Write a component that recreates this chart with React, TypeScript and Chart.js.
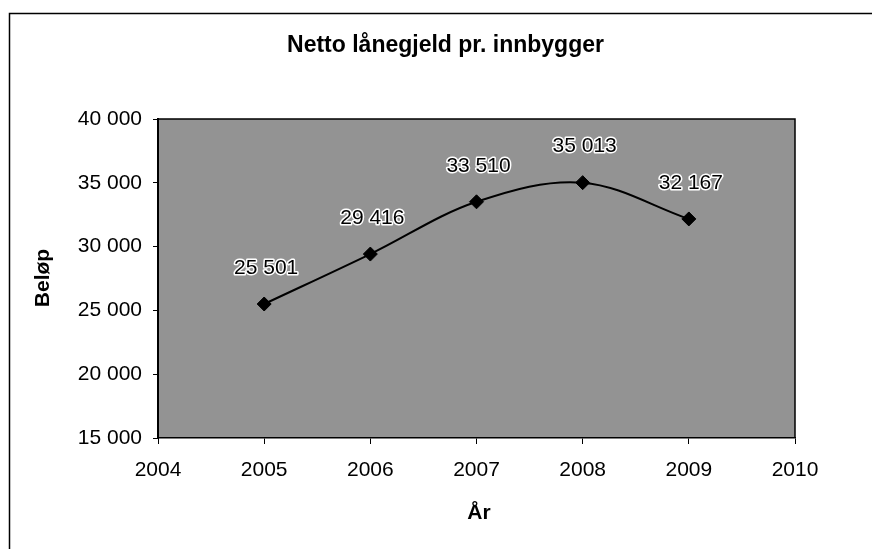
import React, { useEffect, useRef } from "react";
import { Chart, registerables } from "chart.js";

Chart.register(...registerables);

const years = [2005, 2006, 2007, 2008, 2009];
const amounts = [25501, 29416, 33510, 35013, 32167];
const titleText = "Netto lånegjeld pr. innbygger";
const yTitle = "Beløp";
const xTitle = "År";
const yMin = 15000;
const yMax = 40000;
const yStep = 5000;
const xMin = 2004;
const xMax = 2010;

const FONT = "'Liberation Sans', Arial, Helvetica, sans-serif";

function fmt(v: number): string {
  return String(Math.round(v)).replace(/\B(?=(\d{3})+(?!\d))/g, " ");
}

const decorPlugin = {
  id: "decor",
  beforeDraw(chart: any) {
    const { ctx, chartArea } = chart;
    ctx.save();
    ctx.fillStyle = "#ffffff";
    ctx.fillRect(0, 0, chart.width, chart.height);
    ctx.fillStyle = "#939393";
    ctx.fillRect(chartArea.left, chartArea.top, chartArea.right - chartArea.left, chartArea.bottom - chartArea.top);
    ctx.restore();
  },
  afterDraw(chart: any) {
    const { ctx, chartArea } = chart;
    ctx.save();
    // plot border
    ctx.strokeStyle = "#000";
    ctx.lineWidth = 1.5;
    ctx.beginPath();
    ctx.moveTo(chartArea.left, chartArea.top);
    ctx.lineTo(chartArea.right, chartArea.top);
    ctx.lineTo(chartArea.right, chartArea.bottom);
    ctx.stroke();
    // outer frame
    ctx.lineWidth = 1.5;
    ctx.beginPath();
    ctx.moveTo(9.5, chart.height);
    ctx.lineTo(9.5, 13.5);
    ctx.lineTo(chart.width, 13.5);
    ctx.stroke();
    // titles
    ctx.fillStyle = "#000";
    ctx.textAlign = "center";
    ctx.textBaseline = "alphabetic";
    ctx.font = `bold 23px ${FONT}`;
    ctx.fillText(titleText, 445.5, 52);
    ctx.font = `bold 21px ${FONT}`;
    ctx.fillText(xTitle, 479, 519);
    ctx.translate(43, 278);
    ctx.rotate(-Math.PI / 2);
    ctx.textBaseline = "middle";
    ctx.fillText(yTitle, 0, 0);
    ctx.restore();
  },
  afterDatasetsDraw(chart: any) {
    const { ctx } = chart;
    const meta = chart.getDatasetMeta(0);
    ctx.save();
    ctx.font = `21px ${FONT}`;
    ctx.textAlign = "center";
    ctx.textBaseline = "middle";
    ctx.lineJoin = "round";
    meta.data.forEach((pt: any, i: number) => {
      const txt = fmt(amounts[i]);
      const x = pt.x + 2;
      const y = pt.y - 36;
      ctx.strokeStyle = "#ffffff";
      ctx.lineWidth = 3;
      ctx.strokeText(txt, x, y);
      ctx.fillStyle = "#000";
      ctx.fillText(txt, x, y);
    });
    ctx.restore();
  },
};

export default function App() {
  const ref = useRef<HTMLCanvasElement | null>(null);
  useEffect(() => {
    document.body.style.margin = "0";
    const canvas = ref.current!;
    const chart = new Chart(canvas, {
      type: "line",
      data: {
        datasets: [
          {
            data: years.map((y, i) => ({ x: y, y: amounts[i] })),
            borderColor: "#000",
            backgroundColor: "#000",
            borderWidth: 2,
            tension: 0.35,
            pointStyle: "rectRot",
            pointRadius: 7,
            pointBorderWidth: 1,
            pointBackgroundColor: "#000",
            pointBorderColor: "#000",
            fill: false,
          },
        ],
      },
      options: {
        responsive: false,
        animation: false,
        events: [],
        layout: { padding: { left: 0, top: 119, right: 77, bottom: 0 } },
        plugins: {
          legend: { display: false },
          title: { display: false },
          tooltip: { enabled: false },
        },
        scales: {
          x: {
            type: "linear",
            min: xMin,
            max: xMax,
            afterFit(scale: any) {
              scale.height = 111;
            },
            ticks: {
              stepSize: 1,
              color: "#000",
              font: { family: FONT, size: 21 },
              padding: 14,
              maxRotation: 0,
              callback: (v: any) => String(v),
            },
            grid: {
              display: true,
              drawOnChartArea: false,
              drawTicks: true,
              tickLength: 6,
              color: "#000",
            },
            border: { display: true, color: "#000", width: 1.5 },
          },
          y: {
            min: yMin,
            max: yMax,
            afterFit(scale: any) {
              scale.width = 158;
            },
            ticks: {
              stepSize: yStep,
              color: "#000",
              font: { family: FONT, size: 21 },
              padding: 11,
              callback: (v: any) => fmt(Number(v)),
            },
            grid: {
              display: true,
              drawOnChartArea: false,
              drawTicks: true,
              tickLength: 5,
              color: "#000",
            },
            border: { display: true, color: "#000", width: 2 },
          },
        },
      },
      plugins: [decorPlugin],
    });
    return () => chart.destroy();
  }, []);
  return <canvas ref={ref} width={872} height={549} style={{ display: "block" }} />;
}
